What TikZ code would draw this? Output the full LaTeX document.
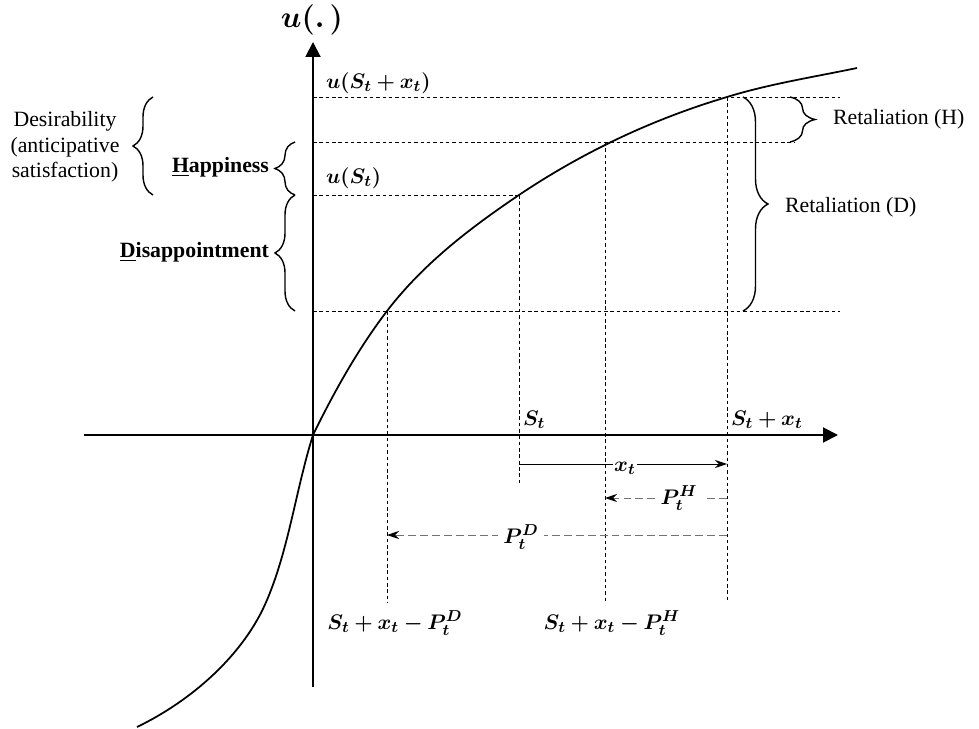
\documentclass[tikz,border=0pt]{standalone}
\usepackage{fontspec}
\setmainfont{Liberation Serif}
\usepackage{amsmath,bm}
\usetikzlibrary{arrows.meta,decorations.pathreplacing}

\begin{document}
\begin{tikzpicture}[x=0.2mm,y=-0.2mm,
every node/.style={font=\fontsize{12.4}{14.5}\selectfont},
axis/.style={line width=1.1pt,-{Triangle[length=3mm,width=3mm]}},
guide/.style={line width=0.5pt,dash pattern=on 2pt off 1.6pt},
curve/.style={line width=1pt},
shiftarrow/.style={line width=0.5pt,-{Stealth[length=2.4mm,width=1.6mm,black]}},
pshift/.style={shiftarrow,draw=black!55,dash pattern=on 4.5pt off 2.3pt},
lbl/.style={fill=white,inner sep=0.5pt},
bracel/.style={decorate,decoration={brace,amplitude=4mm},line width=0.8pt},
braceb/.style={decorate,decoration={brace,amplitude=5mm},line width=0.8pt}]
\useasboundingbox (0,0) rectangle (979,729);
% axes
\coordinate (ybot) at (313,687); \coordinate (ytop) at (313,42);
\coordinate (xl) at (84,435); \coordinate (xr) at (838,435);
\draw[axis] (ybot) -- (ytop);
\draw[axis] (xl) -- (xr);
\node (ulab) at (312,20) {\fontsize{17}{20}\selectfont$\bm{u(.\,)}$};
% levels on the vertical axis and points on the curve
\coordinate (O) at (313,435);
\coordinate (uX) at (313,97); \coordinate (uH) at (313,142);
\coordinate (uS) at (313,195); \coordinate (uD) at (313,311);
\coordinate (cX) at (727,97); \coordinate (cH) at (605,142);
\coordinate (cS) at (519,195); \coordinate (cD) at (387,311);
\coordinate (eX) at (840,97); \coordinate (eH) at (795,142); \coordinate (eD) at (840,311);
\coordinate (fD) at (387,603); \coordinate (fS) at (519,483);
\coordinate (fH) at (605,603); \coordinate (fX) at (727,603);
\draw[guide] (uX) -- (eX); \draw[guide] (uH) -- (eH);
\draw[guide] (uS) -- (cS); \draw[guide] (uD) -- (eD);
\draw[guide] (cD) -- (fD); \draw[guide] (cS) -- (fS);
\draw[guide] (cH) -- (fH); \draw[guide] (cX) -- (fX);
% utility curve
\coordinate (cLow) at (137,727); \coordinate (cMid) at (267,600); \coordinate (cEnd) at (857,68);
\draw[curve] (cLow) .. controls (191,701) and (244,655) .. (cMid)
  .. controls (289,548) and (296,489) .. (O)
  .. controls (334,392) and (358,349) .. (cD)
  .. controls (423,264) and (470,228) .. (cS)
  .. controls (583,152) and (653,119) .. (cX)
  .. controls (769,84) and (814,77) .. (cEnd);
\node[anchor=west,inner sep=1pt] (uSX) at (324,83) {$\bm{u(S_t+x_t)}$};
\node[anchor=west,inner sep=1pt] (uSt) at (324,178) {$\bm{u(S_t)}$};
% braces on the left
\draw[bracel] (153,195) -- (153,97);
\draw[bracel] (295,195) -- (295,142);
\draw[bracel] (295,311) -- (295,195);
\node[align=center] (desir) at (65,147) {Desirability\\(anticipative\\satisfaction)};
\node[anchor=east,inner sep=1pt] (happy) at (271,167) {\textbf{\underline{H}appiness}};
\node[anchor=east,inner sep=1pt] (disap) at (271,252) {\textbf{\underline{D}isappointment}};
% braces on the right
\draw[braceb] (790,97) -- (790,142);
\draw[braceb] (743,97) -- (743,311);
\node[anchor=west,inner sep=1pt] (retH) at (831,119) {Retaliation (H)};
\node[anchor=west,inner sep=1pt] (retD) at (783,207) {Retaliation (D)};
% labels on the horizontal axis
\node[anchor=west,inner sep=1pt] (St) at (521,420) {$\bm{S_t}$};
\node[anchor=west,inner sep=1pt] (StX) at (729,420) {$\bm{S_t+x_t}$};
\node (StXD) at (395,623) {$\bm{S_t+x_t-P_t^D}$};
\node (StXH) at (612,623) {$\bm{S_t+x_t-P_t^H}$};
% shifts
\coordinate (aS) at (519,464); \coordinate (aX) at (727,464);
\coordinate (hX) at (727,498); \coordinate (hH) at (605,498);
\coordinate (dX) at (727,535); \coordinate (dD) at (387,535);
\draw[shiftarrow] (aS) -- (aX);
\node[lbl] (xt) at (625,468) {$\bm{x_t}$};
\draw[pshift] (hX) -- (hH);
\node[lbl,inner sep=3pt] (PH) at (679,498) {$\bm{P_t^H}$};
\draw[pshift] (dX) -- (dD);
\node[lbl,inner sep=3pt] (PD) at (521,537) {$\bm{P_t^D}$};
\end{tikzpicture}
\end{document}
